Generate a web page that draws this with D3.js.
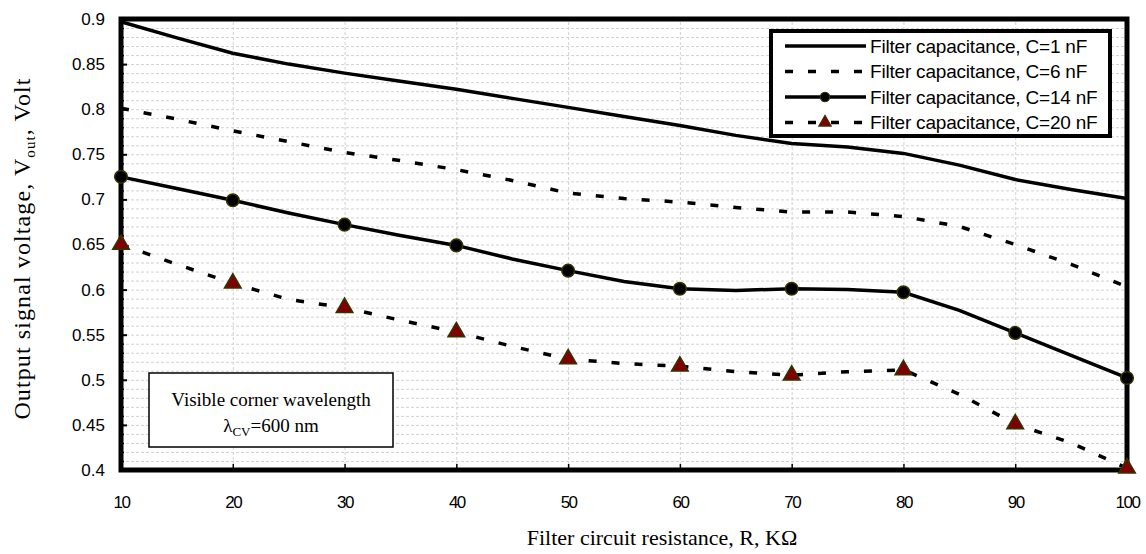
<!DOCTYPE html>
<html>
<head>
<meta charset="utf-8">
<script src="https://cdn.jsdelivr.net/npm/d3@7"></script>
<style>
  body { margin: 0; background: #fff; }
  svg { display: block; }
</style>
</head>
<body>
<div id="chart"></div>
<script>
// resistance values (K ohm) and output voltages
var resistance = [10, 15, 20, 25, 30, 35, 40, 45, 50, 55, 60, 65, 70, 75, 80, 85, 90, 95, 100];
var vC1  = [0.897, 0.879, 0.862, 0.850, 0.840, 0.831, 0.822, 0.812, 0.802, 0.792, 0.782, 0.771, 0.762, 0.758, 0.751, 0.738, 0.722, 0.711, 0.701];
var vC6  = [0.801, 0.789, 0.776, 0.764, 0.752, 0.743, 0.733, 0.721, 0.707, 0.701, 0.697, 0.691, 0.686, 0.686, 0.681, 0.670, 0.650, 0.628, 0.603];
var vC14 = [0.725, 0.712, 0.699, 0.685, 0.672, 0.660, 0.649, 0.634, 0.621, 0.609, 0.601, 0.599, 0.601, 0.600, 0.597, 0.577, 0.552, 0.527, 0.502];
var vC20 = [0.650, 0.628, 0.607, 0.589, 0.580, 0.566, 0.553, 0.537, 0.523, 0.518, 0.515, 0.509, 0.505, 0.509, 0.511, 0.484, 0.451, 0.430, 0.402];

var seriesNames = ["Filter capacitance, C=1 nF", "Filter capacitance, C=6 nF",
                   "Filter capacitance, C=14 nF", "Filter capacitance, C=20 nF"];

var xTicks = [10, 20, 30, 40, 50, 60, 70, 80, 90, 100];
var yTicks = [0.4, 0.45, 0.5, 0.55, 0.6, 0.65, 0.7, 0.75, 0.8, 0.85, 0.9];
var yTickLabels = ["0.4", "0.45", "0.5", "0.55", "0.6", "0.65", "0.7", "0.75", "0.8", "0.85", "0.9"];

var W = 1146, H = 554;
var margin = {top: 19, right: 19, bottom: 84, left: 121};
var width = W - margin.left - margin.right,
    height = H - margin.top - margin.bottom;

var svg = d3.select("#chart").append("svg")
    .attr("width", W)
    .attr("height", H);

var chart = svg.append("g")
    .attr("transform", "translate(" + margin.left + "," + margin.top + ")");

var xScale = d3.scaleLinear().domain([10, 100]).range([0, width]);
var yScale = d3.scaleLinear().domain([0.4, 0.9]).range([height, 0]);

// minor grid every 0.01, vertical grid every 10
var yGrid = d3.range(41, 90).map(d => d / 100);
chart.append("g")
    .call(d3.axisLeft(yScale).tickValues(yGrid).tickSize(-width).tickFormat(""))
    .call(g => g.select(".domain").remove())
    .selectAll("line")
    .attr("stroke", "#d2d2d2")
    .attr("stroke-dasharray", "3,2");

chart.append("g")
    .attr("transform", "translate(0," + height + ")")
    .call(d3.axisBottom(xScale).tickValues(xTicks.slice(1, -1)).tickSize(-height).tickFormat(""))
    .call(g => g.select(".domain").remove())
    .selectAll("line")
    .attr("stroke", "#d2d2d2")
    .attr("stroke-dasharray", "3,2");

// inner tick marks
var yMinor = d3.range(40, 91).map(d => d / 100);
chart.append("g")
    .call(d3.axisRight(yScale).tickValues(yMinor).tickSize(3).tickFormat(""))
    .call(g => g.select(".domain").remove())
    .selectAll("line").attr("stroke", "#000").attr("stroke-width", 1.5);
chart.append("g")
    .call(d3.axisRight(yScale).tickValues(yTicks).tickSize(6).tickFormat(""))
    .call(g => g.select(".domain").remove())
    .selectAll("line").attr("stroke", "#000").attr("stroke-width", 2);
chart.append("g")
    .attr("transform", "translate(0," + height + ")")
    .call(d3.axisTop(xScale).tickValues(xTicks).tickSize(6).tickFormat(""))
    .call(g => g.select(".domain").remove())
    .selectAll("line").attr("stroke", "#000").attr("stroke-width", 1.5);

// tick labels
chart.append("g")
    .call(d3.axisLeft(yScale).tickValues(yTicks).tickSize(0).tickPadding(16)
        .tickFormat((d, i) => yTickLabels[i]))
    .call(g => g.select(".domain").remove())
    .selectAll("text")
    .attr("font-family", "Liberation Sans, Arial, sans-serif")
    .attr("font-size", "17px")
    .attr("fill", "#000");

chart.append("g")
    .attr("transform", "translate(0," + height + ")")
    .call(d3.axisBottom(xScale).tickValues(xTicks).tickSize(0).tickPadding(26))
    .call(g => g.select(".domain").remove())
    .selectAll("text")
    .attr("font-family", "Liberation Sans, Arial, sans-serif")
    .attr("font-size", "17px")
    .attr("letter-spacing", "-1.5px")
    .attr("fill", "#000");

// frame
chart.append("rect")
    .attr("x", 0).attr("y", 0)
    .attr("width", width).attr("height", height)
    .attr("fill", "none")
    .attr("stroke", "#000")
    .attr("stroke-width", 5);

var line = d3.line()
    .x(d => xScale(d[0]))
    .y(d => yScale(d[1]));

function pairs(vals) {
    return resistance.map((r, i) => [r, vals[i]]);
}

var series = [
    {vals: vC1, dash: null, marker: null},
    {vals: vC6, dash: "8,15", marker: null},
    {vals: vC14, dash: null, marker: "circle"},
    {vals: vC20, dash: "8,15", marker: "triangle"}
];

series.forEach(function(s) {
    chart.append("path")
        .datum(pairs(s.vals))
        .attr("d", line)
        .attr("fill", "none")
        .attr("stroke", "#000")
        .attr("stroke-width", 3.5)
        .attr("stroke-dasharray", s.dash);
});

var circleSym = d3.symbol().type(d3.symbolCircle).size(125);
var triSym = d3.symbol().type(d3.symbolTriangle).size(120);

function drawMarker(g, type) {
    if (type === "circle") {
        g.append("path").attr("d", circleSym)
            .attr("fill", "#000").attr("stroke", "#333300").attr("stroke-width", 1.5);
    } else {
        g.append("path").attr("d", triSym)
            .attr("fill", "#800000").attr("stroke", "#333300").attr("stroke-width", 1.5);
    }
}

series.forEach(function(s) {
    if (!s.marker) return;
    var pts = pairs(s.vals).filter(d => d[0] % 10 === 0);
    pts.forEach(function(d) {
        var g = chart.append("g")
            .attr("transform", "translate(" + xScale(d[0]) + "," + yScale(d[1]) + ")");
        drawMarker(g, s.marker);
    });
});

// legend
var legend = svg.append("g").attr("transform", "translate(771,31)");
legend.append("rect")
    .attr("width", 339).attr("height", 105)
    .attr("fill", "#fff").attr("stroke", "#000").attr("stroke-width", 4);

series.forEach(function(s, i) {
    var y = 15 + i * 25.5;
    legend.append("line")
        .attr("x1", 14).attr("x2", 95).attr("y1", y).attr("y2", y)
        .attr("stroke", "#000").attr("stroke-width", 3.5)
        .attr("stroke-dasharray", s.dash ? "8,15" : null);
    if (s.marker) {
        var g = legend.append("g").attr("transform", "translate(54," + y + ")");
        drawMarker(g, s.marker);
        g.select("path").attr("transform", "scale(0.75)");
    }
    legend.append("text")
        .attr("x", 99).attr("y", y + 6.5)
        .attr("font-family", "Liberation Sans, Arial, sans-serif")
        .attr("font-size", "19px")
        .attr("letter-spacing", "-0.2px")
        .text(seriesNames[i]);
});

// annotation box
var note = svg.append("g").attr("transform", "translate(149,373)");
note.append("rect")
    .attr("width", 244).attr("height", 74)
    .attr("fill", "#fff").attr("stroke", "#000").attr("stroke-width", 1.5);
note.append("text")
    .attr("x", 122).attr("y", 33)
    .attr("text-anchor", "middle")
    .attr("font-family", "Liberation Serif, Times New Roman, serif")
    .attr("font-size", "19px")
    .text("Visible corner wavelength");
var t2 = note.append("text")
    .attr("x", 122).attr("y", 59)
    .attr("text-anchor", "middle")
    .attr("font-family", "Liberation Serif, Times New Roman, serif")
    .attr("font-size", "19px");
t2.append("tspan").text("λ");
t2.append("tspan").attr("font-size", "13px").attr("dy", 4).text("CV");
t2.append("tspan").attr("dy", -4).text("=600 nm");

// axis titles
var yt = svg.append("text")
    .attr("transform", "translate(30," + (margin.top + height / 2 + 4) + ") rotate(-90)")
    .attr("text-anchor", "middle")
    .attr("font-family", "Liberation Serif, Times New Roman, serif")
    .attr("font-size", "24px")
    .attr("letter-spacing", "1.1px");
yt.append("tspan").text("Output signal voltage, V");
yt.append("tspan").attr("font-size", "15px").attr("dy", 5).text("out");
yt.append("tspan").attr("dy", -5).text(",  Volt");

svg.append("text")
    .attr("x", 662)
    .attr("y", 545)
    .attr("text-anchor", "middle")
    .attr("font-family", "Liberation Serif, Times New Roman, serif")
    .attr("font-size", "22px")
    .text("Filter circuit resistance, R, KΩ");
</script>
</body>
</html>
